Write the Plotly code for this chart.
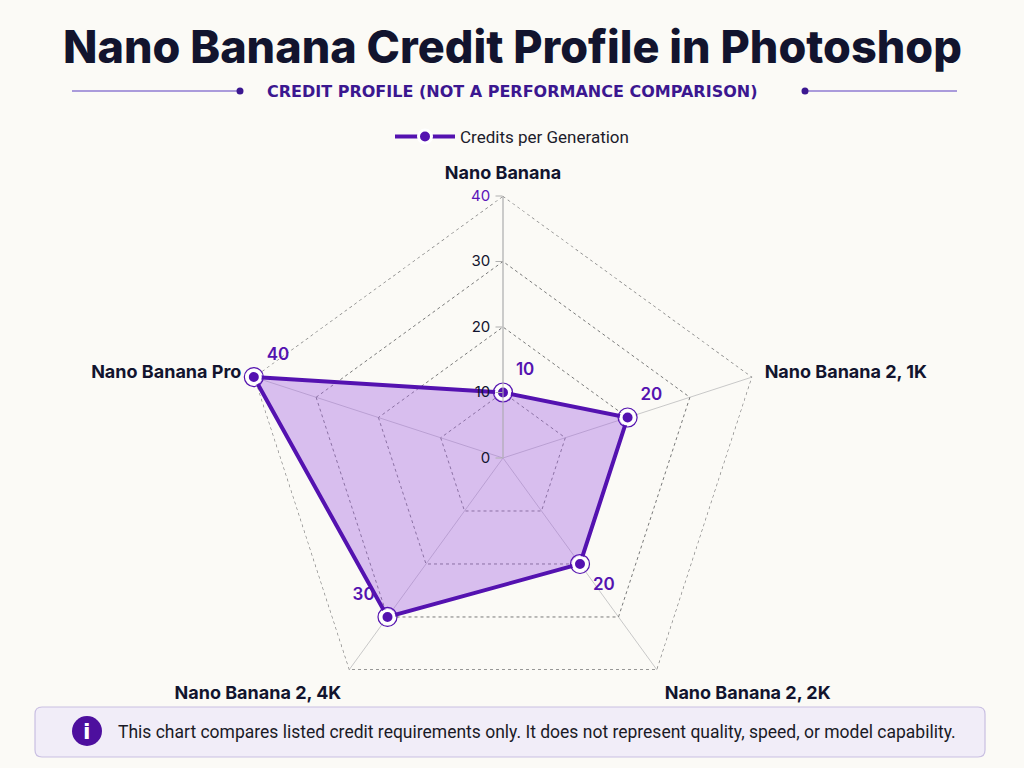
import plotly.graph_objects as go

# Data
models = ["Nano Banana", "Nano Banana 2, 1K", "Nano Banana 2, 2K",
          "Nano Banana 2, 4K", "Nano Banana Pro"]
credits = [10, 20, 20, 30, 40]
label_pos = ["top right", "top right", "bottom right", "top left", "top right"]
tick_vals = [0, 10, 20, 30, 40]
tick_text = ["0", "10", "20", "30", "<span style='color:#5b14b8'>40</span>"]
r_max = 40

W, H = 1024, 768
PURPLE = "#5412b0"
NAVY = "#12142e"
BG = "#fbfaf6"


def px(x):
    return x / W


def py(y):
    return 1 - y / H


# close the polygon
r_closed = credits + credits[:1]
theta_closed = models + models[:1]

fig = go.Figure()

# outer dotted border of the web (at the max of the radial range)
fig.add_trace(go.Scatterpolar(
    r=[r_max] * (len(models) + 1),
    theta=theta_closed,
    mode="lines",
    line=dict(color="#777777", width=1.2, dash="dot"),
    showlegend=False,
    hoverinfo="skip",
))

# filled area (kept out of the legend so the legend shows just line + marker)
fig.add_trace(go.Scatterpolar(
    r=r_closed,
    theta=theta_closed,
    mode="lines",
    fill="toself",
    fillcolor="rgba(165, 100, 228, 0.40)",
    line=dict(width=0),
    showlegend=False,
    hoverinfo="skip",
))

fig.add_trace(go.Scatterpolar(
    r=r_closed,
    theta=theta_closed,
    mode="lines+markers",
    line=dict(color=PURPLE, width=4),
    marker=dict(size=13, color=PURPLE, line=dict(color="white", width=3)),
    name="Credits per Generation",
    hoverinfo="skip",
))
# outer ring around the markers + value labels
fig.add_trace(go.Scatterpolar(
    r=credits,
    theta=models,
    mode="markers+text",
    marker=dict(size=19, symbol="circle-open", color=PURPLE, line=dict(width=1.2)),
    text=[str(c) for c in credits],
    textposition=label_pos,
    textfont=dict(family="Inter", size=17, color=PURPLE, weight=600),
    showlegend=False,
    hoverinfo="skip",
))

fig.update_layout(
    width=W, height=H,
    paper_bgcolor=BG,
    plot_bgcolor=BG,
    margin=dict(l=0, r=0, t=0, b=0),
    font=dict(family="Inter", color=NAVY),
    polar=dict(
        domain=dict(x=[px(241), px(765)], y=[py(720), py(196)]),
        bgcolor=BG,
        gridshape="linear",
        radialaxis=dict(
            range=[0, r_max],
            angle=90,
            side="counterclockwise",
            tickangle=90,
            tickvals=tick_vals,
            ticktext=tick_text,
            tickfont=dict(family="Inter", size=15, color=NAVY),
            ticks="outside",
            ticklen=7,
            tickcolor="#b0b0b0",
            showline=True,
            linecolor="#b5b5b5",
            linewidth=1,
            gridcolor="#7a7a7a",
            griddash="dot",
            gridwidth=1,
        ),
        angularaxis=dict(
            rotation=90,
            direction="clockwise",
            tickfont=dict(family="Inter", size=18, color=NAVY, weight="bold"),
            showline=False,
            gridcolor="#c8c8c8",
            gridwidth=1,
            ticks="outside",
            ticklen=9,
            tickcolor="rgba(0,0,0,0)",
        ),
    ),
    legend=dict(
        orientation="h",
        x=0.5, xanchor="center",
        y=py(137), yanchor="middle",
        itemwidth=60,
        font=dict(family="Roboto", size=17, color="#1c1c2c"),
        bgcolor="rgba(0,0,0,0)",
    ),
    showlegend=True,
)

# title and subtitle
fig.add_annotation(
    text="Nano Banana Credit Profile in Photoshop",
    x=0.5, y=py(46), xref="paper", yref="paper",
    showarrow=False, xanchor="center", yanchor="middle",
    font=dict(family="Inter", size=45, color=NAVY, weight=800),
)
fig.add_annotation(
    text="CREDIT PROFILE (NOT A PERFORMANCE COMPARISON)",
    x=0.5, y=py(91), xref="paper", yref="paper",
    showarrow=False, xanchor="center", yanchor="middle",
    font=dict(family="DejaVu Sans", size=16, color="#3b1790", weight="bold"),
)

# decorative lines beside the subtitle
for x0, x1, xd in [(72, 240, 240), (805, 957, 805)]:
    fig.add_shape(type="line", xref="paper", yref="paper",
                  x0=px(x0), x1=px(x1), y0=py(91), y1=py(91),
                  line=dict(color="#5a3cc0", width=1.2))
    fig.add_shape(type="circle", xref="paper", yref="paper",
                  x0=px(xd - 3.5), x1=px(xd + 3.5), y0=py(94.5), y1=py(87.5),
                  fillcolor="#3b1790", line=dict(width=0))

# note box with rounded corners
bx0, bx1, by0, by1, rr = 35, 985, 707, 757, 7
path = (f"M {px(bx0 + rr)},{py(by0)} L {px(bx1 - rr)},{py(by0)} "
        f"Q {px(bx1)},{py(by0)} {px(bx1)},{py(by0 + rr)} "
        f"L {px(bx1)},{py(by1 - rr)} "
        f"Q {px(bx1)},{py(by1)} {px(bx1 - rr)},{py(by1)} "
        f"L {px(bx0 + rr)},{py(by1)} "
        f"Q {px(bx0)},{py(by1)} {px(bx0)},{py(by1 - rr)} "
        f"L {px(bx0)},{py(by0 + rr)} "
        f"Q {px(bx0)},{py(by0)} {px(bx0 + rr)},{py(by0)} Z")
fig.add_shape(type="path", xref="paper", yref="paper", path=path,
              fillcolor="#f1edf8", line=dict(color="#c9bfe2", width=1.2),
              layer="below")
fig.add_shape(type="circle", xref="paper", yref="paper",
              x0=px(87 - 15), x1=px(87 + 15), y0=py(731 + 15), y1=py(731 - 15),
              fillcolor="#4d0f9e", line=dict(width=0))
fig.add_annotation(
    text="i", x=px(87), y=py(731), xref="paper", yref="paper",
    showarrow=False, xanchor="center", yanchor="middle",
    font=dict(family="DejaVu Sans", size=22, color="white", weight="bold"),
)
fig.add_annotation(
    text="This chart compares listed credit requirements only. "
         "It does not represent quality, speed, or model capability.",
    x=px(116), y=py(732), xref="paper", yref="paper",
    showarrow=False, xanchor="left", yanchor="middle",
    font=dict(family="Roboto", size=17.5, color="#1a1a26"),
)

# the page body has a default 8px margin; drop it so the figure fills the window
fig.write_html("out.html", config={"displayModeBar": False},
               post_script="document.body.style.margin='0';")
